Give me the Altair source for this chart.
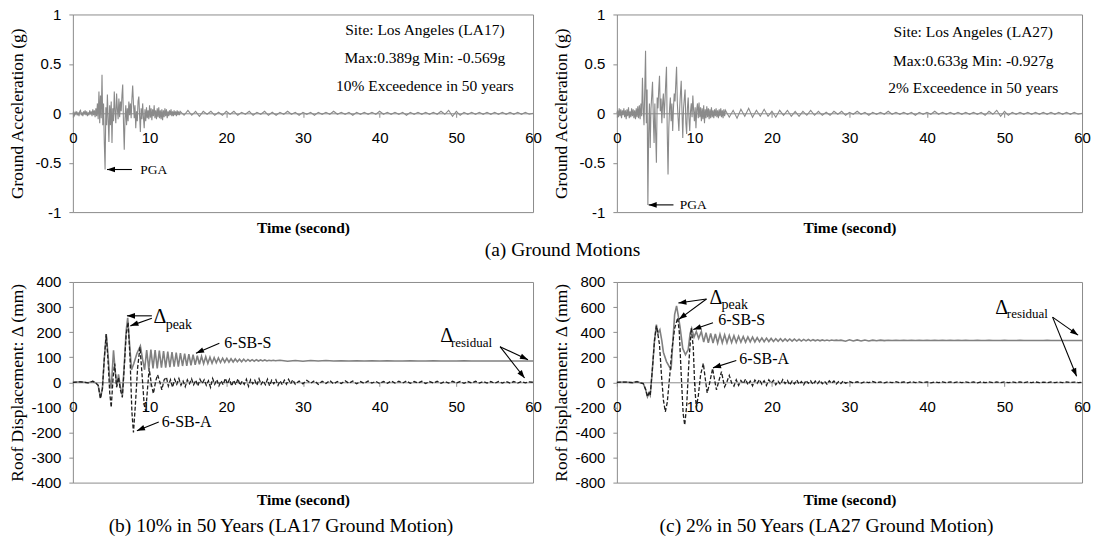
import math
import numpy as np
import pandas as pd
import altair as alt

# ---------------- ground acceleration records (g) ----------------
# strong-motion part, one value every 0.1 s from 0 s to 14 s
LA17_STRONG = [
    0.00, 0.01, -0.02, 0.01, -0.01, 0.02, -0.02, 0.01, -0.03, 0.02,
    0.03, -0.02, 0.01, -0.03, 0.02, -0.01, 0.03, -0.02, 0.02, -0.03,
    0.01, -0.02, 0.03, -0.01, 0.02, -0.03, 0.04, -0.02, 0.03, -0.04,
    0.05, -0.03, 0.10, -0.06, 0.22, -0.10, 0.18, -0.05, 0.389, -0.12,
    0.10, -0.30, -0.569, 0.06, -0.12, 0.19, -0.05, -0.29, 0.08, -0.12,
    0.12, -0.30, 0.05, -0.08, 0.22, 0.02, -0.10, 0.20, 0.05, -0.06,
    0.15, -0.04, 0.12, 0.02, 0.18, 0.29, -0.10, -0.37, -0.05, 0.08,
    -0.12, 0.05, -0.08, 0.12, -0.02, 0.10, -0.05, 0.15, 0.28, 0.10,
    -0.05, 0.08, -0.15, 0.02, -0.08, 0.12, 0.17, -0.02, -0.19, 0.05,
    -0.06, 0.10, -0.04, -0.15, 0.04, -0.08, 0.06, -0.05, 0.03, -0.06,
    0.08, -0.04, 0.05, -0.07, 0.04, -0.03, 0.08, -0.05, 0.03, -0.06,
    0.05, -0.04, 0.06, -0.05, 0.03, -0.06, 0.04, -0.07, 0.03, -0.04,
    0.05, -0.03, 0.04, -0.05, 0.02, -0.03, 0.03, -0.02, 0.04, -0.03,
    0.02, -0.03, 0.03, -0.02, 0.02, -0.03, 0.03, -0.02, 0.02, -0.02,
    0.02,
]
# coda, one value every 0.5 s after the strong-motion part
LA17_TAIL = [
    -0.02, 0.03, -0.02, 0.02, -0.03, 0.02, -0.01, 0.02, -0.02, 0.01,
    -0.02, 0.02, -0.01, 0.02, -0.02, 0.01, -0.01, 0.02, -0.02, 0.01,
    -0.01, 0.02, -0.02, 0.01, -0.02, 0.01, -0.01, 0.02, -0.01, 0.01,
    -0.02, 0.01, -0.01, 0.01, -0.02, 0.01, -0.01, 0.01, -0.01, 0.02,
    -0.01, 0.01, -0.01, 0.01, -0.02, 0.01, -0.01, 0.01, -0.01, 0.01,
    -0.01, 0.02, -0.01, 0.01, -0.01, 0.01, -0.01, 0.01, -0.02, 0.01,
    -0.01, 0.01, -0.01, 0.01, -0.01, 0.01, -0.01, 0.02, -0.01, 0.03,
    -0.03, 0.02, -0.02, 0.01, -0.01, 0.01, -0.01, 0.01, -0.01, 0.01,
    -0.01, 0.01, -0.01, 0.01, -0.01, 0.01, -0.01, 0.01, -0.01, 0.01,
    -0.01, 0.00,
]
LA27_STRONG = [
    0.00, 0.03, -0.04, 0.05, -0.03, 0.04, -0.05, 0.03, -0.02, 0.05,
    -0.04, 0.03, -0.06, 0.04, -0.03, 0.06, -0.05, 0.02, -0.04, 0.05,
    -0.03, 0.04, -0.05, 0.03, -0.06, 0.05, -0.04, 0.07, -0.05, 0.08,
    -0.06, 0.10, -0.03, 0.36, 0.05, -0.12, 0.25, 0.633, -0.10, 0.24,
    -0.927, -0.20, 0.10, -0.35, 0.05, 0.18, 0.32, -0.05, -0.30, 0.10,
    -0.20, -0.50, 0.16, 0.05, 0.24, 0.38, 0.02, 0.15, -0.10, 0.10,
    0.20, -0.05, 0.12, 0.30, 0.47, -0.20, -0.62, -0.15, 0.05, 0.16,
    -0.08, 0.10, -0.18, 0.05, 0.20, 0.12, 0.30, 0.47, 0.10, -0.05,
    -0.18, 0.05, 0.20, 0.33, 0.02, -0.25, 0.05, 0.15, 0.24, -0.10,
    -0.21, 0.05, 0.16, -0.05, -0.18, 0.02, 0.10, -0.04, 0.18, 0.03,
    -0.08, 0.06, -0.15, 0.04, 0.10, -0.05, 0.11, -0.04, 0.06, -0.08,
    0.05, -0.06, 0.08, -0.10, 0.04, -0.05, 0.07, -0.04, 0.05, -0.06,
    0.04, -0.05, 0.06, -0.04, 0.03, -0.05, 0.04, -0.03, 0.05, -0.04,
    0.03, -0.05, 0.04, -0.03, 0.05, -0.04, 0.03, -0.05, 0.04, -0.03,
    0.03,
]
LA27_TAIL = [
    -0.04, 0.03, -0.05, 0.04, -0.03, 0.05, -0.04, 0.03, -0.03, 0.04,
    -0.03, 0.02, -0.04, 0.03, -0.02, 0.03, -0.03, 0.02, -0.03, 0.02,
    -0.02, 0.03, -0.02, 0.02, -0.02, 0.01, -0.02, 0.02, -0.01, 0.02,
    -0.02, 0.01, -0.01, 0.02, -0.01, 0.01, -0.02, 0.01, -0.01, 0.01,
    -0.01, 0.02, -0.01, 0.01, -0.01, 0.01, -0.01, 0.01, -0.02, 0.01,
    -0.01, 0.01, -0.01, 0.02, -0.01, 0.01, -0.01, 0.01, -0.01, 0.01,
    -0.01, 0.01, -0.01, 0.01, -0.01, 0.01, -0.02, 0.02, -0.01, 0.03,
    -0.03, 0.02, -0.02, 0.01, -0.01, 0.01, -0.01, 0.01, -0.01, 0.01,
    -0.01, 0.01, -0.01, 0.01, -0.01, 0.01, -0.01, 0.01, -0.01, 0.01,
    -0.01, 0.00,
]
STRONG_DT = 0.1
CODA_DT = 0.5

# ---------------- roof displacement histories (mm) ----------------
# each history: (time, value) pairs for the strong response, then
# free vibration values on a regular clock, then the settled tail
S17_EARLY = [
    (0, 0), (1.0, 2), (2.0, -2), (2.6, 4), (3.0, -3), (3.3, -12), (3.6, -62),
    (3.85, -25), (4.1, 95), (4.35, 192), (4.6, 105), (4.8, 15), (5.0, -25),
    (5.3, 128), (5.55, 35), (5.75, -15), (5.95, 32), (6.2, -20), (6.45, -52),
    (6.7, 70), (6.95, 205), (7.15, 257), (7.4, 150), (7.65, 50), (7.95, 75),
    (8.35, 115), (8.8, 145), (9.1, 90),
]
S17_OSC = [
    50, 128, 52, 130, 55, 128, 55, 126, 58, 124,
    58, 122, 60, 120, 62, 118, 62, 116, 65, 114,
    66, 112, 68, 110, 70, 106, 72, 104, 74, 102,
    75, 100, 76, 98, 78, 97, 79, 96, 80, 95,
    80, 94, 81, 93, 82, 92, 82, 92, 83, 91,
    84, 90, 84, 90, 85, 89, 85, 89, 85, 88,
    86, 88, 86,
]
S17_TAIL = [
    88, 84, 87, 84, 87, 85, 87, 85, 86, 85,
    86, 85, 86, 85, 86, 85, 85, 86, 85, 85,
    86, 85, 85, 85, 86, 85, 85, 85, 85, 85,
    85, 85, 85, 85,
]
A17_EARLY = [
    (0, 0), (1.0, 2), (2.0, -2), (2.6, 4), (3.0, -3), (3.3, -12), (3.6, -65),
    (3.85, -25), (4.1, 95), (4.35, 192), (4.6, 80), (4.8, -40), (5.0, -100),
    (5.25, 20), (5.45, 75), (5.7, -20), (5.95, 20), (6.2, -30), (6.45, -60),
    (6.7, 60), (6.95, 190), (7.2, 240), (7.45, 100), (7.7, -120), (7.9, -200),
    (8.15, -90), (8.45, 60), (8.75, 140), (9.0, 40), (9.3, -90), (9.5, -115),
    (9.75, -20), (9.95, 55), (10.25, -10), (10.5, -45), (10.8, 5), (11.05, 30),
    (11.35, 0), (11.6, -30), (11.9, 10), (12.2, 20),
]
A17_OSC = [
    -15, 10, -20, 12, -8, 15, -12, 5, -18, 10,
    -6, 14, -10, 8, -15, 12, -5, 10, -12, 6,
    -20, 15, -8, 10, -14, 6, -10, 16, -6, 12,
    -15, 8, -10, 14, -12, 5, -8, 12, -16, 10,
    -6, 8, -12, 14, -8, 6, -10, 12, -14, 8,
    -6, 10, -12, 6, -10, 8, -8, 12, -6, 10,
]
A17_TAIL = [
    -8, 5, -6, 8, -4, 6, -8, 4, -5, 7,
    -6, 3, -5, 6, -4, 5, -6, 3, -4, 5,
    -3, 4, -5, 3, -4, 5, -3, 4, -3, 5,
    -4, 3, -3, 4, -5, 3, -3, 4, -4, 3,
    -3, 4, -3, 3, -4, 3, -3, 4, -3, 3,
    -3, 3, -4, 3, -3, 3, -3, 3, -3, 3,
    -2, 2, 0,
]
S27_EARLY = [
    (0, 0), (1.0, 2), (2.0, -3), (2.6, 5), (3.0, -4), (3.4, -10), (3.7, -55),
    (3.95, -115), (4.15, -85), (4.3, -105), (4.55, 80), (4.85, 330), (5.1, 460),
    (5.3, 390), (5.55, 420), (5.8, 330), (6.0, 240), (6.4, 165), (6.8, 120),
    (7.0, 110), (7.25, 350), (7.45, 540), (7.7, 610), (7.95, 520), (8.15, 440),
    (8.5, 270), (8.85, 220), (9.2, 260), (9.45, 390), (9.65, 430), (9.95, 360),
    (10.25, 405), (10.55, 350), (10.9, 405),
]
S27_OSC = [
    320, 395, 315, 390, 312, 385, 312, 382, 315, 378,
    315, 375, 318, 372, 318, 368, 320, 365, 320, 362,
    322, 360, 322, 356, 324, 354, 324, 352, 325, 350,
    326, 348, 327, 347, 327, 346, 328, 345, 328, 344,
    329, 343, 329, 342, 330, 341, 330, 340, 331, 339,
    331, 338, 332, 337, 332, 337, 333, 336, 333, 336,
]
S27_TAIL = [
    328, 339, 329, 338, 330, 337, 330, 336, 331, 336,
    332, 335, 333, 334, 333, 335, 333, 334, 333, 334,
    333, 334, 333, 334, 333, 334, 333, 334, 333, 334,
    333, 334, 333, 333, 334, 333, 333, 334, 333, 333,
    333, 334, 333, 333, 333, 334, 333, 333, 333, 333,
    333, 333, 334, 333, 333, 333, 333, 333, 333, 333,
    333, 333,
]
A27_EARLY = [
    (0, 0), (1.0, 2), (2.0, -3), (2.6, 5), (3.0, -4), (3.4, -10), (3.7, -55),
    (3.95, -115), (4.15, -85), (4.3, -105), (4.55, 80), (4.85, 330), (5.1, 450),
    (5.3, 380), (5.5, 300), (5.75, 60), (6.0, -140), (6.25, -235), (6.5, -160),
    (6.8, 40), (7.1, 260), (7.45, 430), (7.85, 515), (8.05, 400), (8.3, 60),
    (8.55, -250), (8.75, -340), (9.0, -190), (9.3, 170), (9.6, 430), (9.85, 280),
    (10.05, -40), (10.25, -200), (10.5, -110), (10.8, 60), (11.15, 150),
    (11.4, 30), (11.65, -85), (11.95, -10), (12.35, 110), (12.6, 20),
    (12.85, -60), (13.15, 10), (13.5, 85), (13.7, 20), (13.9, -35), (14.2, 5),
    (14.5, 55), (14.8, -5), (15.1, -30),
]
A27_OSC = [
    20, -25, 15, -10, 25, -20, 10, -28, 18, -8,
    22, -15, 12, -25, 20, -6, 15, -20, 8, -18,
    22, -10, 14, -22, 10, -12, 18, -15, 6, -20,
    15, -8, 12, -18, 10, -10, 16, -12, 8, -15,
    12, -8, 10, -14, 6, -10, 12, -8,
]
A27_TAIL = [
    6, -5, 4, -6, 5, -3, 6, -4, 3, -5,
    4, -3, 5, -4, 3, -4, 5, -3, 4, -3,
    3, -4, 3, -3, 4, -3, 3, -3, 4, -3,
    3, -3, 3, -4, 3, -3, 3, -3, 3, -3,
    3, -3, 3, -3, 3, -3, 3, -3, 3, -3,
    2, -3, 3, -2, 2, -2, 3, -2, 2, -2,
    0,
]
# (start time, step) of the regular parts of each history
CLOCKS = {
    "S17": ((9.35, 0.275), (27.0, 1.0)),
    "A17": ((12.45, 0.275), (29.0, 0.5)),
    "S27": ((11.2, 0.3), (29.5, 0.5)),
    "A27": ((15.4, 0.3), (30.0, 0.5)),
}

GM17_NOTES = ["Site: Los Angeles (LA17)", "Max:0.389g  Min: -0.569g", "10% Exceedence in 50 years"]
GM27_NOTES = ["Site: Los Angeles (LA27)", "Max:0.633g  Min: -0.927g", "2% Exceedence in 50 years"]

X_TICKS = [0, 10, 20, 30, 40, 50, 60]
ACC_TICKS = [-1, -0.5, 0, 0.5, 1]
D17_TICKS = [-400, -300, -200, -100, 0, 100, 200, 300, 400]
D27_TICKS = [-800, -600, -400, -200, 0, 200, 400, 600, 800]

SERIF = "Liberation Serif, Times New Roman, Times, DejaVu Serif, serif"
SANS = "Liberation Sans, Arial, Helvetica, sans-serif"
FRAME = "#8c8c8c"
HEAD = "M0,0L0.8,2.3L-0.8,2.3Z"


def record(strong, coda):
    end = (len(strong) - 1) * STRONG_DT
    t = [round(i * STRONG_DT, 3) for i in range(len(strong))]
    t += [end + CODA_DT * (i + 1) for i in range(len(coda))]
    return pd.DataFrame({"t": t, "v": list(strong) + list(coda)})


def history(early, osc, tail, key):
    (o0, odt), (t0, tdt) = CLOCKS[key]
    t = [p[0] for p in early] + [o0 + i * odt for i in range(len(osc))]
    t += [t0 + i * tdt for i in range(len(tail))]
    v = [p[1] for p in early] + list(osc) + list(tail)
    return pd.DataFrame({"t": t, "v": v})


def encodings(w, h, ydom, yticks, ytitle, title_gap):
    x = alt.X("t:Q", scale=alt.Scale(domain=[0, 60], nice=False, zero=False),
              axis=alt.Axis(values=X_TICKS, offset=-h / 2, grid=False,
                            title="Time (second)", titleY=h / 2 + title_gap,
                            titleBaseline="middle",
                            titleFont=SERIF, titleFontSize=15.5, titleFontWeight="bold",
                            titleColor="black",
                            labelFont=SANS, labelFontSize=15, labelColor="black",
                            labelPadding=13, labelFlush=False, labelOverlap=False,
                            domainColor=FRAME, tickColor=FRAME, tickSize=4))
    y = alt.Y("v:Q", scale=alt.Scale(domain=ydom, nice=False, zero=False),
              axis=alt.Axis(values=yticks, labelExpr="'' + datum.value", grid=False,
                            domain=False, tickColor=FRAME, tickSize=4, labelPadding=8,
                            labelFont=SANS, labelFontSize=15, labelColor="black",
                            title=ytitle, titleX=-55, titleY=h / 2, titleAngle=270,
                            titleBaseline="middle", titleFont=SERIF, titleFontSize=17.5,
                            titleFontWeight="normal", titleColor="black"))
    return x, y


def panel(lines, w, h, ydom, yticks, ytitle, arrows, texts, notes, title, dx, offset,
          title_gap):
    x, y = encodings(w, h, ydom, yticks, ytitle, title_gap)
    layers = []
    for df, style in lines:
        layers.append(alt.Chart(df).mark_line(**style).encode(x=x, y=y))

    sx = w / 60.0
    sy = h / (ydom[1] - ydom[0])
    rows = []
    heads = []
    for tt, vt, th, vh in arrows:
        rows.append({"t": tt, "v": vt, "t2": th, "v2": vh})
        dxp = (th - tt) * sx
        dyp = -(vh - vt) * sy
        ang = math.degrees(math.atan2(dxp, -dyp)) % 360
        heads.append({"t": th, "v": vh, "ang": ang})
    layers.append(alt.Chart(pd.DataFrame(rows)).mark_rule(color="black", strokeWidth=1.1)
                  .encode(x=x, y=y, x2="t2:Q", y2="v2:Q"))
    layers.append(alt.Chart(pd.DataFrame(heads))
                  .mark_point(shape=HEAD, filled=True, size=49, color="black",
                              opacity=1, strokeWidth=0)
                  .encode(x=x, y=y, angle=alt.Angle("ang:Q", scale=None)))
    tdf = pd.DataFrame([{"t": a, "v": b, "label": s, "fs": f} for a, b, s, f in texts])
    layers.append(alt.Chart(tdf).mark_text(font=SERIF, color="black", align="left",
                                           baseline="middle")
                  .encode(x=x, y=y, text="label:N", size=alt.Size("fs:Q", scale=None)))
    if notes:
        ndf = pd.DataFrame([{"t": a, "v": b, "label": s} for a, b, s in notes])
        layers.append(alt.Chart(ndf).mark_text(font=SERIF, fontSize=15.5, color="black",
                                               align="center", baseline="middle")
                      .encode(x=x, y=y, text="label:N"))
    props = dict(width=w, height=h)
    if title:
        props["title"] = alt.TitleParams(text=title, orient="bottom", anchor="middle",
                                         frame="group", dx=dx, offset=offset,
                                         font=SERIF, fontSize=19.5, fontWeight="normal",
                                         color="black", baseline="middle")
    return alt.layer(*layers).properties(**props)


GM_LINE = dict(color="#8a8a8a", strokeWidth=1.1)
S_LINE = dict(color="#808080", strokeWidth=1.6)
A_LINE = dict(color="#1e1e1e", strokeWidth=1.3, strokeDash=[4, 2])

W1, W2, H1, H2 = 461, 466, 198, 201

tl = panel([(record(LA17_STRONG, LA17_TAIL), GM_LINE)], W1, H1, [-1, 1], ACC_TICKS,
           "Ground Acceleration (g)",
           [(7.7, -0.569, 4.45, -0.569)],
           [(8.8, -0.569, "PGA", 13.5)],
           [(45.9, 0.843, GM17_NOTES[0]), (45.9, 0.56, GM17_NOTES[1]),
            (45.9, 0.278, GM17_NOTES[2])],
           "(a) Ground Motions", 260, 14, 15)

tr = panel([(record(LA27_STRONG, LA27_TAIL), GM_LINE)], W2, H1, [-1, 1], ACC_TICKS,
           "Ground Acceleration (g)",
           [(7.3, -0.927, 4.1, -0.927)],
           [(8.1, -0.927, "PGA", 13.5)],
           [(45.97, 0.823, GM27_NOTES[0]), (45.97, 0.53, GM27_NOTES[1]),
            (45.97, 0.258, GM27_NOTES[2])],
           None, 0, 0, 15)

bl = panel([(history(S17_EARLY, S17_OSC, S17_TAIL, "S17"), S_LINE),
            (history(A17_EARLY, A17_OSC, A17_TAIL, "A17"), A_LINE)],
           W1, H2, [-400, 400], D17_TICKS, "Roof Displacement: Δ (mm)",
           [(10.3, 265, 7.05, 265), (10.3, 255, 7.5, 225), (19.1, 156, 16.05, 116),
            (11.2, -158, 8.35, -193), (55.7, 142, 59.35, 90), (55.7, 142, 58.9, 17)],
           [(10.5, 261, "Δ", 20), (12.1, 229, "peak", 14), (19.75, 157, "6-SB-S", 16),
            (11.6, -157, "6-SB-A", 16), (47.9, 186, "Δ", 20), (49.3, 158, "residual", 13)],
           None, "(b) 10% in 50 Years (LA17 Ground Motion)", -22, 18, 17)

br = panel([(history(S27_EARLY, S27_OSC, S27_TAIL, "S27"), S_LINE),
            (history(A27_EARLY, A27_OSC, A27_TAIL, "A27"), A_LINE)],
           W2, H2, [-800, 800], D27_TICKS, "Roof Displacement: Δ (mm)",
           [(11.56, 664, 7.93, 632), (11.56, 664, 8.0, 502), (12.4, 475, 9.85, 421),
            (15.4, 173, 12.4, 115), (56.2, 520, 59.5, 376), (56.2, 520, 59.3, 48)],
           [(11.95, 674, "Δ", 20), (13.5, 616, "peak", 14), (13.07, 494, "6-SB-S", 16),
            (15.8, 187, "6-SB-A", 16), (48.8, 594, "Δ", 20), (50.3, 542, "residual", 13)],
           None, "(c) 2% in 50 Years (LA27 Ground Motion)", -23, 18, 17)

chart = (
    alt.concat(tl, tr, bl, br, columns=2, spacing={"row": 70, "column": 84}, bounds="flush")
    .properties(padding={"left": 8, "top": 6, "right": 2, "bottom": 2}, background="white")
    .configure_view(stroke=FRAME, strokeWidth=1)
)

chart.save("out.html", embed_options={"renderer": "svg", "actions": False})
